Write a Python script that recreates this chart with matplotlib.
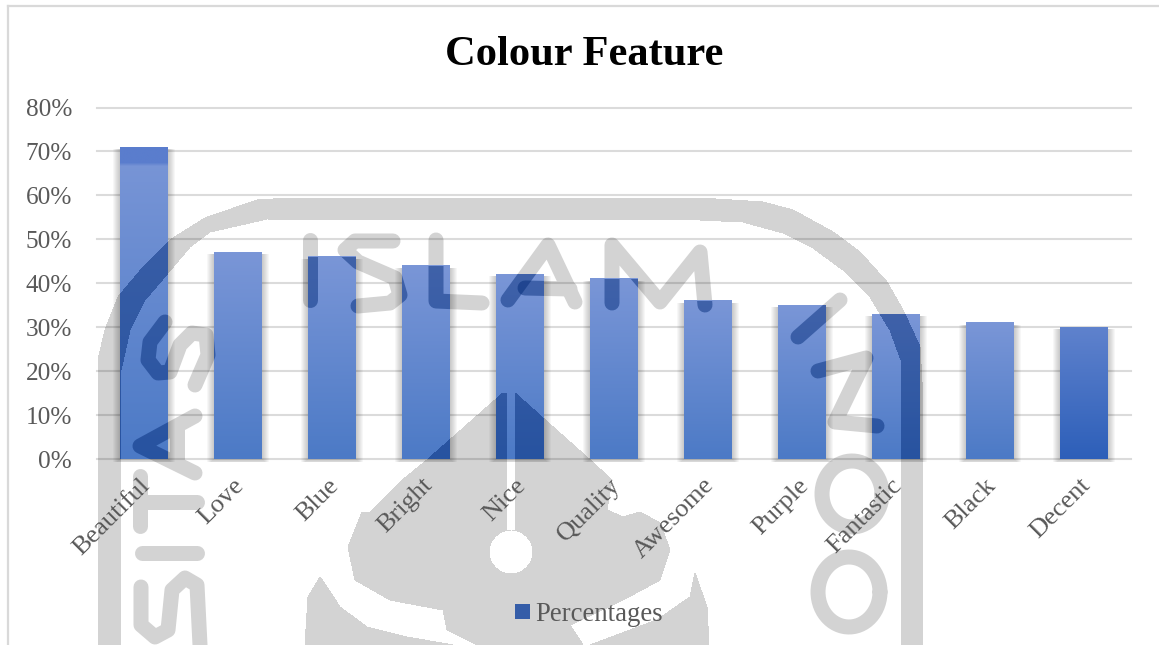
import numpy as np
import matplotlib
matplotlib.use("Agg")
import matplotlib.pyplot as plt
from matplotlib.patches import PathPatch, Rectangle, Patch
from matplotlib.path import Path
from matplotlib.transforms import Affine2D, ScaledTranslation

plt.rcParams['font.family'] = ['Liberation Serif', 'DejaVu Serif']

words = ['Beautiful', 'Love', 'Blue', 'Bright', 'Nice', 'Quality', 'Awesome',
         'Purple', 'Fantastic', 'Black', 'Decent']
percent = [71, 47, 46, 44, 42, 41, 36, 35, 33, 31, 30]
yticks = [0, 10, 20, 30, 40, 50, 60, 70, 80]

W, H = 1159, 645
GREY = '#595959'


def ellipse(cx, cy, rx, ry, n=60):
    t = np.linspace(0, 2 * np.pi, n)
    return list(zip(cx + rx * np.cos(t), cy + ry * np.sin(t)))


# university stamp behind the chart, in pixel coordinates
hole = ellipse(511, 552, 22, 22)
hole = (hole[45:] + hole[:45])[::-1]
stamp_fills = [
    # outer band
    [(98, 645), (98, 360), (105, 330), (118, 297), (145, 265), (170, 240), (205, 218),
     (257, 200), (290, 198), (700, 198), (763, 202), (793, 210), (833, 232), (860, 252),
     (887, 282), (903, 310), (920, 347), (923, 400), (923, 645), (901, 645), (901, 360),
     (890, 330), (870, 297), (843, 270), (813, 248), (783, 233), (743, 222), (700, 220),
     (267, 219), (210, 232), (190, 247), (168, 273), (145, 300), (130, 330), (121, 370),
     (121, 645)],
    # central figure with the slit running into the round hole
    [(515, 393), (543, 418), (588, 458), (612, 480), (607, 510), (623, 517), (640, 512),
     (660, 523), (670, 550), (660, 580), (623, 600), (570, 625), (583, 645), (477, 645),
     (447, 630), (443, 610), (390, 600), (355, 580), (348, 547), (362, 512), (370, 512),
     (400, 482), (427, 460), (503, 393), (507, 393), (507, 530)] + hole + [(515, 530)],
    # crescents under the figure
    [(320, 577), (308, 597), (305, 645), (453, 645), (407, 637), (367, 627), (340, 607),
     (327, 587)],
    [(695, 573), (707, 607), (709, 645), (590, 645), (657, 620), (690, 597)],
]
stamp_strokes = [
    # ISLAM
    [(310, 240), (310, 300)],
    [(393, 241), (355, 241), (345, 250), (358, 262), (395, 278), (400, 295), (390, 303), (358, 306)],
    [(436, 240), (436, 301), (482, 303)],
    [(508, 300), (548, 245), (575, 302)],
    [(525, 288), (570, 289)],
    [(612, 303), (612, 245), (660, 302), (700, 252), (705, 305)],
    # left side lettering
    [(165, 322), (150, 342), (148, 360), (158, 373), (170, 372), (180, 345), (192, 333),
     (206, 335), (208, 355), (195, 385)],
    [(195, 416), (140, 446), (195, 473)],
    [(177, 428), (177, 458)],
    [(140, 476), (140, 526)],
    [(145, 502), (197, 502)],
    [(142, 553), (197, 553)],
    [(141, 587), (141, 625), (155, 637), (168, 630), (172, 590), (185, 578), (197, 585), (200, 645)],
    # right side lettering
    [(840, 300), (798, 337)],
    [(818, 371), (866, 358), (835, 422), (877, 426)],
    ellipse(852, 494, 30, 33),
    ellipse(849, 592, 31, 35),
]


def draw_stamp(target, trans, color, alpha=None, clip=None, zorder=1):
    for pts in stamp_fills:
        p = PathPatch(Path(pts, closed=False), fc=color, ec='none', alpha=alpha, lw=0,
                      transform=trans, zorder=zorder, antialiased=False)
        target.add_patch(p)
        if clip is not None:
            p.set_clip_path(clip, ax.transData)
    for pts in stamp_strokes:
        p = PathPatch(Path(pts), fill=False, ec=color, alpha=alpha, lw=15 * 0.72,
                      capstyle='round', joinstyle='round', transform=trans, zorder=zorder)
        target.add_patch(p)
        if clip is not None:
            p.set_clip_path(clip, ax.transData)


fig = plt.figure(figsize=(W / 100, H / 100), dpi=100, facecolor='white')

back = fig.add_axes([0, 0, 1, 1], zorder=0)
back.set_xlim(0, W)
back.set_ylim(H, 0)
back.axis('off')

# chart frame
back.plot([8, 8], [6, H], color='#d9d9d9', lw=1.6, zorder=0.5)
back.plot([8, W], [6, 6], color='#d9d9d9', lw=1.6, zorder=0.5)

ax = fig.add_axes([97 / W, (H - 459) / H, (1131 - 97) / W, (459 - 107.5) / H], zorder=1)
ax.patch.set_alpha(0)
ax.set_xlim(-0.5, 10.5)
ax.set_ylim(0, 80)

draw_stamp(back, back.transData, '#d3d3d3')

for s in ax.spines.values():
    s.set_visible(False)
ax.set_yticks(yticks)
ax.set_yticklabels([f'{v}%' for v in yticks], fontsize=18.2, color=GREY)
ax.set_xticks(range(len(words)))
ax.set_xticklabels(words, rotation=45, ha='right', va='top', rotation_mode='anchor',
                   fontsize=19, color=GREY)
ax.tick_params(axis='both', length=0)
ax.tick_params(axis='y', pad=18)
ax.tick_params(axis='x', pad=11)
shift = ScaledTranslation(-5 / 100, 0, fig.dpi_scale_trans)
for lab in ax.get_xticklabels():
    lab.set_transform(lab.get_transform() + shift)
ax.grid(axis='y', color='black', alpha=0.14, lw=1.5, zorder=1)
ax.set_axisbelow(True)
for gl in ax.get_ygridlines():
    gl.set_clip_on(False)

bar_w = 48 / 94
unit_y = 80 / 351.5
unit_x = 1 / 94
top_col = np.array([122, 150, 215]) / 255
low_col = np.array([76, 122, 198]) / 255
rects = []
for i, v in enumerate(percent):
    left = i - bar_w / 2
    # soft drop shadow
    for d in range(1, 8):
        ax.add_patch(Rectangle((left - d * unit_x, -min(d, 3) * unit_y), bar_w + 2 * d * unit_x,
                               v - 2 * unit_y + min(d, 3) * unit_y, fc='black', ec='none',
                               alpha=0.03, zorder=2, clip_on=False))
    c0, c1 = top_col, low_col
    if words[i] == 'Decent':
        c0, c1 = np.array([95, 130, 205]) / 255, np.array([45, 95, 185]) / 255
    rows = np.linspace(0, 1, 90)[:, None, None]
    grad = (1 - rows) * c0[None, None, :] + rows * c1[None, None, :]
    if words[i] == 'Beautiful':
        # darker cap at the top of the tallest bar
        grad[:int(90 * 4 / 71)] = np.array([90, 125, 205]) / 255
    ax.imshow(grad, extent=(left, left + bar_w, 0, v), aspect='auto', zorder=3,
              interpolation='bilinear')
    rects.append(Path.unit_rectangle().transformed(Affine2D().scale(bar_w, v).translate(left, 0)))
ax.set_xlim(-0.5, 10.5)
ax.set_ylim(0, 80)

# stamp shows through the bars as a darker blue
draw_stamp(ax, back.transData, (0, 41 / 255, 119 / 255), alpha=0.48,
           clip=Path.make_compound_path(*rects), zorder=4)

leg = ax.legend(handles=[Patch(fc='#355da8', ec='none', label='Percentages')],
                loc='center', bbox_to_anchor=(589 / W, (H - 614.5) / H),
                bbox_transform=fig.transFigure, frameon=False, fontsize=19.3,
                handlelength=0.53, handleheight=0.53, handletextpad=0.2,
                labelcolor=GREY, borderpad=0)

fig.text(584 / W, (H - 65) / H, 'Colour Feature', ha='center', va='baseline',
         fontsize=30.6, fontweight='bold', color='black')

fig.savefig('out.png', dpi=100)
